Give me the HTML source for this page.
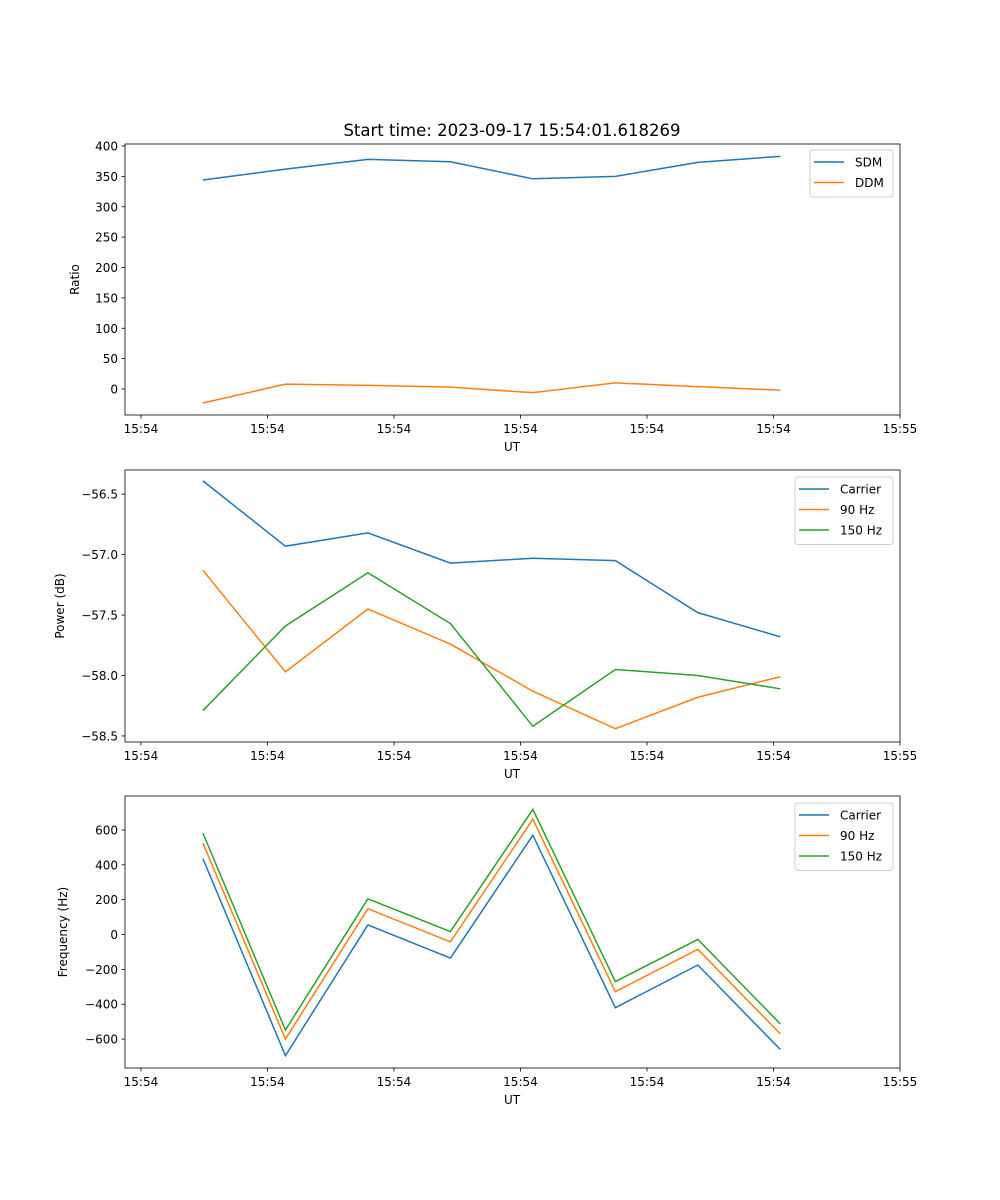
<!DOCTYPE html>
<html><head><meta charset="utf-8"><style>
body{margin:0;background:#fff}
svg{display:block;font-family:"DejaVu Sans","Liberation Sans",sans-serif}
</style></head><body>
<svg id="fig" width="1000" height="1200" xmlns="http://www.w3.org/2000/svg">
<rect width="1000" height="1200" fill="#fff"/>
<text x="512" y="136" font-size="16.5" text-anchor="middle">Start time: 2023-09-17 15:54:01.618269</text>
</svg>
<script>
const times = [4.9, 11.42, 17.94, 24.46, 30.98, 37.5, 44.02, 50.54];
const xTickVals = [0, 10, 20, 30, 40, 50, 60];
const xTickLabels = ["15:54","15:54","15:54","15:54","15:54","15:54","15:55"];
const sdm = [344, 362, 378, 374, 346, 350, 373, 383];
const ddm = [-23, 8, 6, 3, -6, 10, 4, -2];
const powCarrier = [-56.39, -56.93, -56.82, -57.07, -57.03, -57.05, -57.48, -57.68];
const pow90 = [-57.13, -57.97, -57.45, -57.74, -58.13, -58.44, -58.18, -58.01];
const pow150 = [-58.29, -57.59, -57.15, -57.57, -58.42, -57.95, -58.00, -58.11];
const freqCarrier = [435, -695, 55, -135, 570, -420, -175, -660];
const freq90 = [525, -600, 148, -42, 662, -328, -85, -570];
const freq150 = [582, -548, 205, 17, 718, -270, -28, -513];
const ticks1 = [0,50,100,150,200,250,300,350,400];
const ticks2 = [-58.5,-58.0,-57.5,-57.0,-56.5];
const ticks3 = [-600,-400,-200,0,200,400,600];

const NS="http://www.w3.org/2000/svg";
const fig=document.getElementById('fig');
function el(tag,attrs,parent){const e=document.createElementNS(NS,tag);for(const k in attrs)e.setAttribute(k,attrs[k]);(parent||fig).appendChild(e);return e;}
const L=125,R=900,xmin=-1.26,xmax=60.0;
const xs=t=>L+(t-xmin)/(xmax-xmin)*(R-L);
const C=['#1f77b4','#ff7f0e','#2ca02c'];

function panel(name,top,bot,ymin,ymax,yticks,fmt,ylabel,ylabX,series,names,legend){
  const g=el('g',{});
  
  
  const ys=v=>bot-(v-ymin)/(ymax-ymin)*(bot-top);
  xTickVals.forEach((t,i)=>{
    const x=xs(t);
    el('line',{x1:x,x2:x,y1:bot,y2:bot+3.5,stroke:'#000','stroke-width':0.8},g);
    const tx=el('text',{x:x,y:bot+18,'font-size':12,'text-anchor':'middle'},g);
    
    
    tx.textContent=xTickLabels[i];
  });
  yticks.forEach(v=>{
    const y=ys(v);
    el('line',{x1:L-3.5,x2:L,y1:y,y2:y,stroke:'#000','stroke-width':0.8},g);
    const tx=el('text',{x:L-7,y:y+4.5,'font-size':12,'text-anchor':'end'},g);
    
    
    tx.textContent=fmt(v);
  });
  series.forEach((s,i)=>{
    const p=el('polyline',{points:s.map((v,j)=>xs(times[j])+','+ys(v)).join(' '),fill:'none',stroke:C[i],'stroke-width':1.5},g);
    
    
  });
  el('rect',{x:L,y:top,width:R-L,height:bot-top,fill:'none',stroke:'#000','stroke-width':0.8},g);
  const xl=el('text',{x:512,y:bot+36,'font-size':12,'text-anchor':'middle'},g);
  
  
  xl.textContent='UT';
  const yl=el('text',{x:ylabX,y:(top+bot)/2,'font-size':12,'text-anchor':'middle',transform:`rotate(-90 ${ylabX} ${(top+bot)/2})`},g);
  
  
  yl.textContent=ylabel;
  const lg=el('g',{},g);
  
  
  el('rect',{x:legend.x,y:legend.y,width:legend.w,height:names.length*20.5+6,rx:3,fill:'#fff',stroke:'#ccc','stroke-width':1},lg);
  names.forEach((n,i)=>{
    const y=legend.y+12+i*20.5;
    el('line',{x1:legend.x+4,x2:legend.x+34,y1:y,y2:y,stroke:C[i],'stroke-width':1.5},lg);
    const t=el('text',{x:legend.x+45,y:y+4.5,'font-size':12},lg);
    
    
    t.textContent=n;
  });
}
const minus=s=>s.replace('-','\u2212');
panel('ratio-panel',144,415,-42.8,403.3,ticks1,v=>minus(String(v)),'Ratio',79,[sdm,ddm],['SDM','DDM'],{x:810,y:150,w:83});
panel('power-panel',470,742,-58.55,-56.30,ticks2,v=>minus(v.toFixed(1)),'Power (dB)',64,[powCarrier,pow90,pow150],['Carrier','90 Hz','150 Hz'],{x:795,y:477,w:98});
panel('frequency-panel',796,1068,-766,795,ticks3,v=>minus(String(v)),'Frequency (Hz)',67,[freqCarrier,freq90,freq150],['Carrier','90 Hz','150 Hz'],{x:795,y:803,w:98});
</script>
</body></html>
